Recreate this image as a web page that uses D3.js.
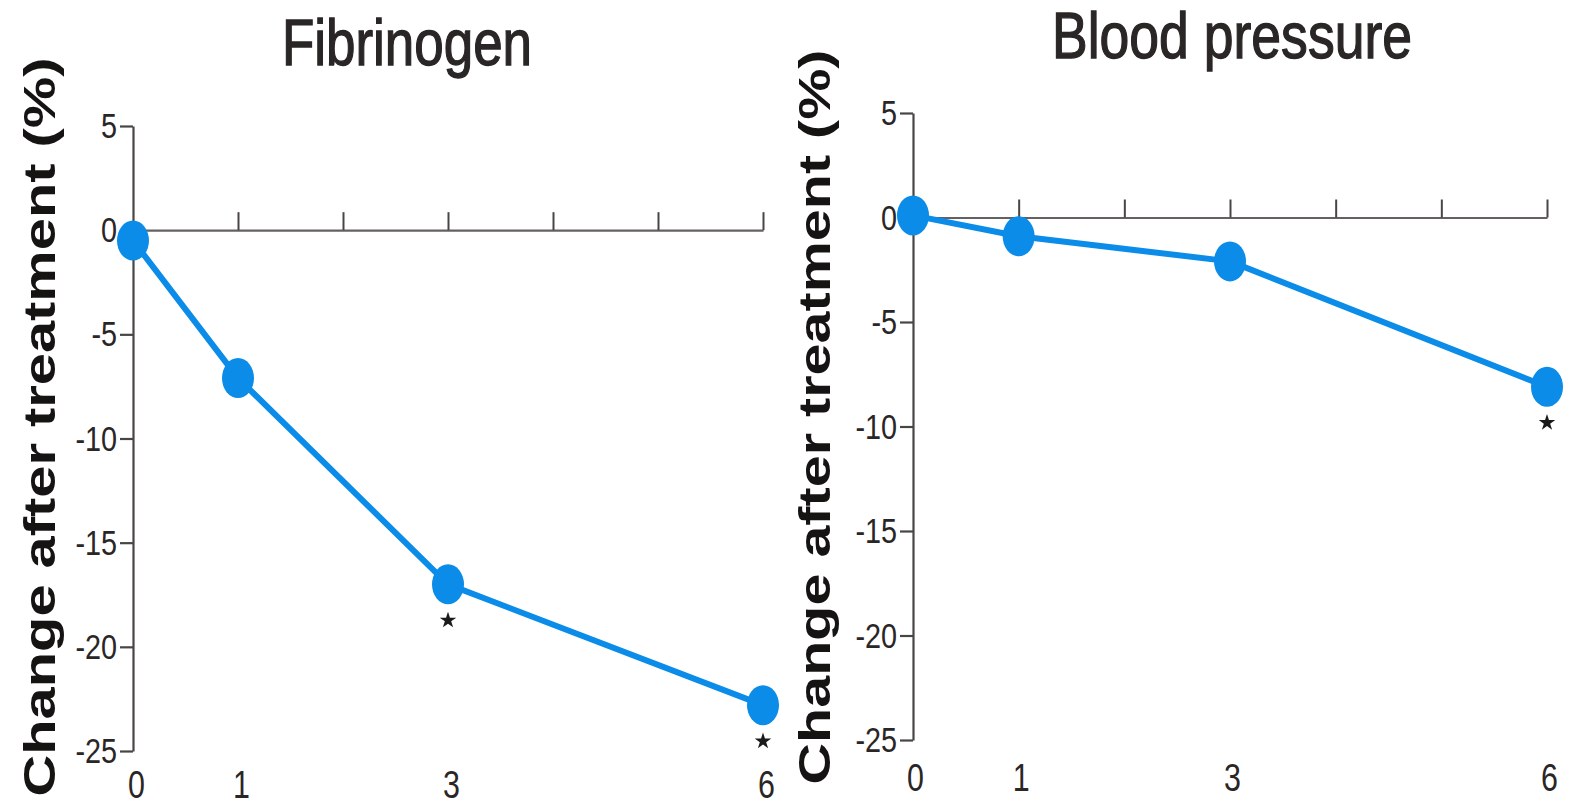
<!DOCTYPE html>
<html>
<head>
<meta charset="utf-8">
<script src="https://cdn.jsdelivr.net/npm/d3@7"></script>
<style>
  html, body { margin: 0; padding: 0; background: #fff; }
  svg { display: block; }
  text { font-family: "Liberation Sans", Arial, Helvetica, sans-serif; }
</style>
</head>
<body>
<svg id="chart" width="1575" height="807"></svg>
<script>
// ---- data ----
const months = [0, 1, 3, 6];
const fibrinogen = [-0.5, -7.1, -17.0, -22.8];
const bloodPressure = [0.1, -0.9, -2.1, -8.1];
const fibrinogenSig = [3, 6];
const bloodPressureSig = [6];
const titles = ["Fibrinogen", "Blood pressure"];
const yLabel = "Change after treatment (%)";
const yTicks = [5, 0, -5, -10, -15, -20, -25];
const xTicks = [0, 1, 2, 3, 4, 5, 6];
const xTickLabels = [0, 1, 3, 6];

// ---- layout ----
const svg = d3.select("#chart");
const blue = "#0a8ce8";
const axisColor = "#4a4545";
const textColor = "#2a2626";
const narrow = 0.8;

const panels = [
  { title: titles[0], values: fibrinogen, sig: fibrinogenSig,
    xr: [133, 763], yr: [126, 751], titleX: 407, titleY: 65, titleLen: 250,
    labX: 55, labMid: 427, labLen: 739, xLabY: 771, xLabDx: 3 },
  { title: titles[1], values: bloodPressure, sig: bloodPressureSig,
    xr: [913, 1547], yr: [113, 740], titleX: 1232, titleY: 58, titleLen: 360,
    labX: 830, labMid: 417, labLen: 735, xLabY: 764, xLabDx: 2 }
];

panels.forEach(p => {
  const x = d3.scaleLinear().domain([0, 6]).range(p.xr);
  const y = d3.scaleLinear().domain([5, -25]).range(p.yr);
  const g = svg.append("g");

  // title
  g.append("text")
    .attr("x", p.titleX).attr("y", p.titleY)
    .attr("text-anchor", "middle")
    .attr("font-size", 64)
    .attr("fill", textColor)
    .attr("stroke", textColor)
    .attr("stroke-width", 1.3)
    .attr("textLength", p.titleLen)
    .attr("lengthAdjust", "spacingAndGlyphs")
    .text(p.title);

  // y label
  g.append("text")
    .attr("transform", `translate(${p.labX},${p.labMid}) rotate(-90)`)
    .attr("text-anchor", "middle")
    .attr("font-size", 45)
    .attr("font-weight", "bold")
    .attr("fill", "#161313")
    .attr("textLength", p.labLen)
    .attr("lengthAdjust", "spacingAndGlyphs")
    .text(yLabel);

  // y axis
  const yAxis = g.append("g")
    .attr("transform", `translate(${p.xr[0]},0)`)
    .call(d3.axisLeft(y).tickValues(yTicks).tickSize(13).tickSizeOuter(0).tickPadding(3));
  yAxis.select(".domain").attr("stroke", axisColor).attr("stroke-width", 2.2);
  yAxis.selectAll(".tick line").attr("stroke", axisColor).attr("stroke-width", 2.2);
  yAxis.selectAll(".tick text")
    .attr("font-size", 36)
    .attr("fill", textColor)
    .attr("font-family", "'Liberation Sans', Arial, sans-serif")
    .each(function() {
      const t = d3.select(this);
      const xx = +t.attr("x");
      t.attr("x", xx / narrow).attr("transform", `scale(${narrow},1)`);
    })
    .text(d => d < 0 ? "-" + Math.abs(d) : d);

  // zero line with upward ticks
  const xAxis = g.append("g")
    .attr("transform", `translate(0,${y(0)})`)
    .call(d3.axisTop(x).tickValues(xTicks.slice(1)).tickSize(18).tickSizeOuter(0).tickFormat(""));
  xAxis.select(".domain").attr("stroke", axisColor).attr("stroke-width", 2.2).attr("stroke-opacity", 0.85);
  xAxis.selectAll(".tick line").attr("stroke", axisColor).attr("stroke-width", 2);

  // bottom month labels
  const xLab = g.append("g")
    .attr("transform", `translate(${p.xLabDx},${p.xLabY})`)
    .call(d3.axisBottom(x).tickValues(xTickLabels).tickSize(0).tickPadding(0).tickFormat(d3.format("d")));
  xLab.select(".domain").remove();
  xLab.selectAll(".tick text")
    .attr("font-size", 38)
    .attr("fill", textColor)
    .attr("transform", `scale(${narrow},1)`);

  // line
  const pts = months.map((m, i) => ({ m, v: p.values[i] }));
  g.append("path")
    .datum(pts)
    .attr("fill", "none")
    .attr("stroke", blue)
    .attr("stroke-width", 6)
    .attr("stroke-linejoin", "round")
    .attr("d", d3.line().x(d => x(d.m)).y(d => y(d.v)));

  g.selectAll("ellipse.pt")
    .data(pts)
    .join("ellipse")
    .attr("class", "pt")
    .attr("cx", d => x(d.m))
    .attr("cy", d => y(d.v))
    .attr("rx", 16)
    .attr("ry", 20)
    .attr("fill", blue);

  // significance stars
  g.selectAll("path.sig")
    .data(pts.filter(d => p.sig.includes(d.m)))
    .join("path")
    .attr("class", "sig")
    .attr("transform", d => `translate(${x(d.m)},${y(d.v) + 36})`)
    .attr("d", d3.symbol().type(d3.symbolStar).size(85))
    .attr("fill", "#1a1a1a");
});
</script>
</body>
</html>
